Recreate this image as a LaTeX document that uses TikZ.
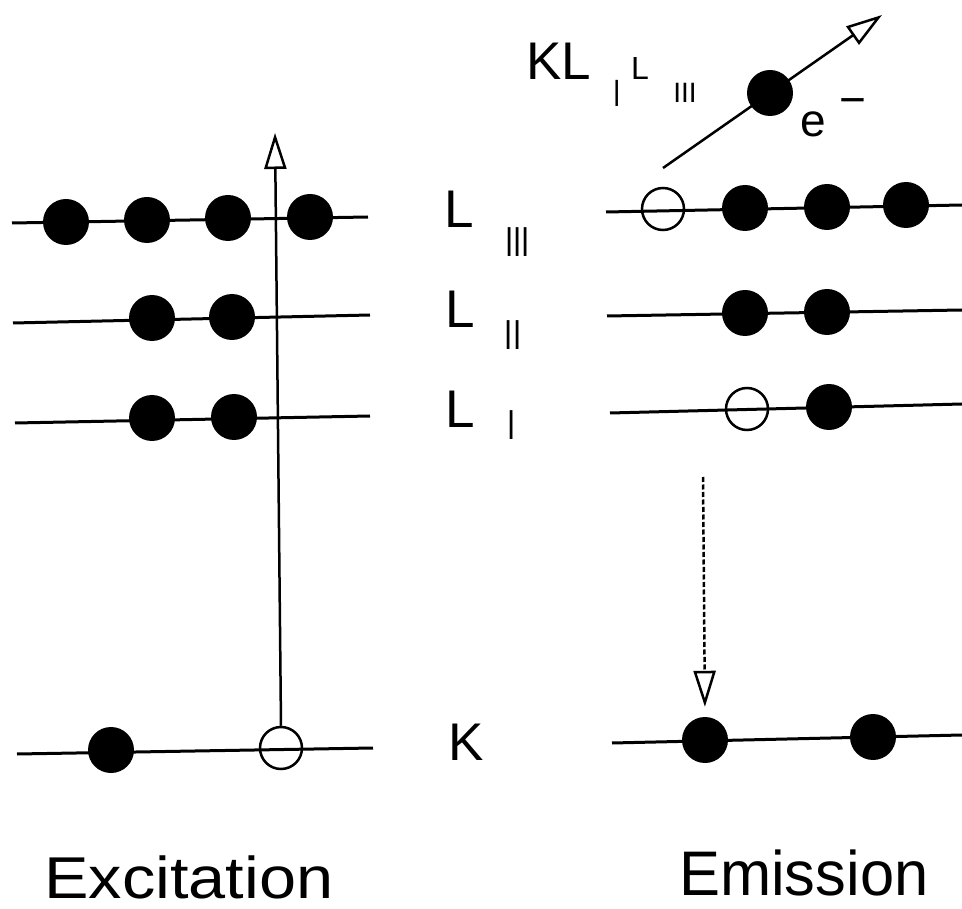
\documentclass[tikz,border=0pt]{standalone}
\usepackage{fontspec}
\setmainfont{Liberation Sans}
\usetikzlibrary{arrows.meta}
\begin{document}
\begin{tikzpicture}[x=1pt,y=-1pt,
  level/.style={line width=3pt},
  full/.style={circle,fill=black,minimum size=46pt,inner sep=0pt},
  hole/.style={circle,draw=black,line width=2.5pt,minimum size=42pt,inner sep=0pt},
  arr/.style={line width=2.5pt,-{Triangle[open,length=36pt,width=22pt]}},
  dasharr/.style={arr,dash pattern=on 5pt off 2.5pt},
  lab/.style={inner sep=0pt,anchor=base west},
  sub/.style={inner sep=0pt,anchor=base,xscale=0.7},
  big/.style={font=\fontsize{53pt}{60pt}\selectfont},
  subf/.style={font=\fontsize{42pt}{48pt}\selectfont},
  title/.style={inner sep=0pt,anchor=base west,text depth=0pt}
]
\useasboundingbox (0,0) rectangle (962,909);

% ---------------- Excitation (left) ----------------
\coordinate (a3l) at (12,223); \coordinate (a3r) at (368,217);
\coordinate (a2l) at (13,323); \coordinate (a2r) at (370,315);
\coordinate (a1l) at (15,423); \coordinate (a1r) at (370,416);
\coordinate (akl) at (17,754); \coordinate (akr) at (373,748);
\draw[level] (a3l) -- (a3r);
\draw[level] (a2l) -- (a2r);
\draw[level] (a1l) -- (a1r);
\draw[level] (akl) -- (akr);

\node[full] (a31) at (66,222) {};
\node[full] (a32) at (147,220) {};
\node[full] (a33) at (228,218) {};
\node[full] (a34) at (310,217) {};
\node[full] (a21) at (152,318) {};
\node[full] (a22) at (232,317) {};
\node[full] (a11) at (152,418) {};
\node[full] (a12) at (234,417) {};
\node[full] (ak1) at (111,750) {};
\node[hole] (ak2) at (281,748) {};

\coordinate (atop) at (275,133);
\draw[arr] (ak2.north) -- (atop);

% ---------------- level labels ----------------
\node[lab,big] (L3) at (444,228) {L};
\node[sub,subf] (L3s) at (517.5,257) {III};
\node[lab,big] (L2) at (445,328) {L};
\node[sub,subf] (L2s) at (513,350) {II};
\node[lab,big] (L1) at (445,428) {L};
\node[sub,subf] (L1s) at (512,440) {I};
\node[lab,big] (K) at (448,760) {K};

% ---------------- Emission (right) ----------------
\coordinate (b3l) at (606,212); \coordinate (b3r) at (962,205);
\coordinate (b2l) at (607,316); \coordinate (b2r) at (962,310);
\coordinate (b1l) at (610,413); \coordinate (b1r) at (962,404);
\coordinate (bkl) at (612,743); \coordinate (bkr) at (962,735);
\draw[level] (b3l) -- (b3r);
\draw[level] (b2l) -- (b2r);
\draw[level] (b1l) -- (b1r);
\draw[level] (bkl) -- (bkr);

\node[hole] (b31) at (663,209) {};
\node[full] (b32) at (745,208) {};
\node[full] (b33) at (827,207) {};
\node[full] (b34) at (906,205) {};
\node[full] (b21) at (745,313) {};
\node[full] (b22) at (827,312) {};
\node[hole] (b11) at (747,409) {};
\node[full] (b12) at (829,407) {};
\node[full] (bk1) at (705,740) {};
\node[full] (bk2) at (873,737) {};

% Auger electron
\coordinate (estart) at (663,168);
\coordinate (etip) at (882,15);
\draw[arr] (estart) -- (etip);
\node[full] (elec) at (770,93) {};
\node[lab,font=\fontsize{46pt}{52pt}\selectfont] (eminus) at (800,137) {e\kern 14pt\raisebox{21pt}{−}};

% transition label
\node[lab,big] (KL) at (526,80) {KL};
\node[sub,font=\fontsize{38pt}{44pt}\selectfont] (KLs1) at (617,107) {I};
\node[lab,font=\fontsize{32pt}{38pt}\selectfont] (KL2) at (631,80) {L};
\node[inner sep=0pt,anchor=base,font=\fontsize{28pt}{34pt}\selectfont] (KLs3) at (685,103) {III};

% dashed transition
\coordinate (dstart) at (703,477);
\draw[dasharr,shorten >=10pt] (dstart) -- (bk1.north);

% ---------------- titles ----------------
\node[title,font=\fontsize{59pt}{66pt}\selectfont,xscale=1.13] (exc) at (44,898) {Excitation};
\node[title,font=\fontsize{63pt}{70pt}\selectfont,xscale=0.975] (emi) at (679,895) {Emission};
\end{tikzpicture}
\end{document}
